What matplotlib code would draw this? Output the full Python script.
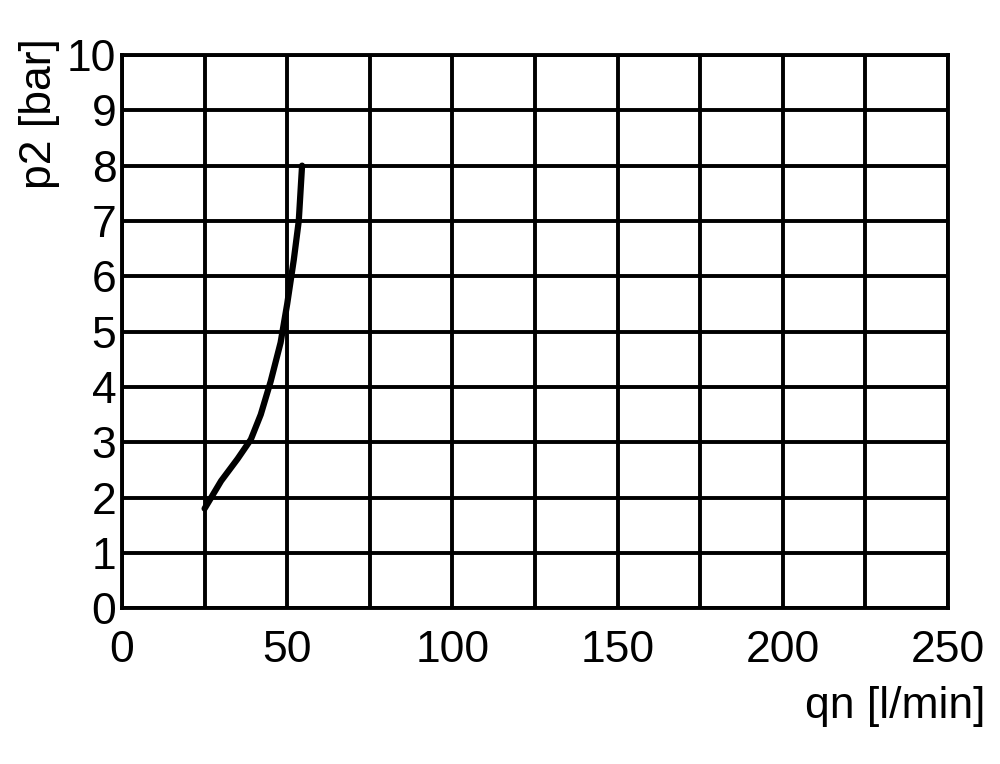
import matplotlib.pyplot as plt

plt.rcParams['font.family'] = ['Liberation Sans Narrow', 'Liberation Sans', 'DejaVu Sans']

qn = [25, 30, 35, 39, 42, 45, 48, 50, 52, 53.5, 54.5]
p2 = [1.8, 2.3, 2.7, 3.05, 3.5, 4.1, 4.8, 5.5, 6.3, 7.0, 8.0]

fig = plt.figure(figsize=(10, 7.64), dpi=100)
ax = fig.add_axes([0.122, 0.204, 0.826, 0.724])

ax.plot(qn, p2, color='black', linewidth=4.5, solid_capstyle='round')

ax.set_xlim(0, 250)
ax.set_ylim(0, 10)
ax.set_xticks(range(0, 251, 25))
ax.set_xticklabels(['0', '', '50', '', '100', '', '150', '', '200', '', '250'])
ax.set_yticks(range(0, 11))
ax.grid(True, color='black', linewidth=2.8)
for s in ax.spines.values():
    s.set_linewidth(2.8)
ax.tick_params(length=0, labelsize=32, pad=4)
ax.tick_params(axis='x', pad=16)

fig.text(0.985, 0.075, 'qn [l/min]', ha='right', va='center', fontsize=32)
fig.text(0.04, 0.95, 'p2 [bar]', ha='center', va='top', rotation=90, fontsize=32)

plt.savefig('out.png', dpi=100)
